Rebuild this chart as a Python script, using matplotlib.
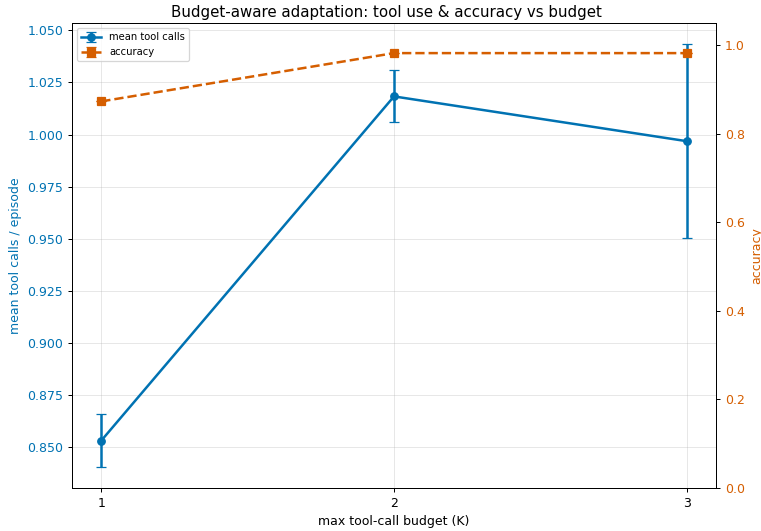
import matplotlib
matplotlib.use('Agg')
import matplotlib.pyplot as plt
import matplotlib.ticker as mticker

budgets = [1, 2, 3]
mean_calls = [0.8530, 1.0183, 0.9968]
calls_err = [0.0126, 0.0125, 0.0466]
accuracy = [0.873, 0.982, 0.982]
acc_err = [0.0, 0.0, 0.0]

BLUE = '#0072B2'
ORANGE = '#D55E00'

W, H = 761, 531
fig = plt.figure(figsize=(W / 90, H / 90), dpi=90)
ax = fig.add_axes([72 / W, 1 - 488 / H, (716 - 72) / W, (488 - 23) / H])

l1 = ax.errorbar(budgets, mean_calls, yerr=calls_err, color=BLUE, marker='o', lw=2,
                 capsize=4, label='mean tool calls')
ax.set_xlabel('max tool-call budget (K)')
ax.set_ylabel('mean tool calls / episode', color=BLUE)
ax.tick_params(axis='y', labelcolor=BLUE)
ax.set_xticks(budgets)
ax.yaxis.set_major_formatter(mticker.FormatStrFormatter('%.3f'))
ax.grid(True, alpha=0.3)

ax_ = ax.twinx()
l2 = ax_.errorbar(budgets, accuracy, yerr=acc_err, color=ORANGE, marker='s', lw=2,
                  ls='--', capsize=4, label='accuracy')
ax_.set_ylim(0, 1.05)
ax_.set_ylabel('accuracy', color=ORANGE)
ax_.tick_params(axis='y', labelcolor=ORANGE)

ax.legend([l1, l2], ['mean tool calls', 'accuracy'], loc='upper left', fontsize=8)
fig.text(386 / W, 1 - 17 / H, 'Budget-aware adaptation: tool use & accuracy vs budget',
         ha='center', va='baseline', fontsize=12)

fig.savefig('out.png')
